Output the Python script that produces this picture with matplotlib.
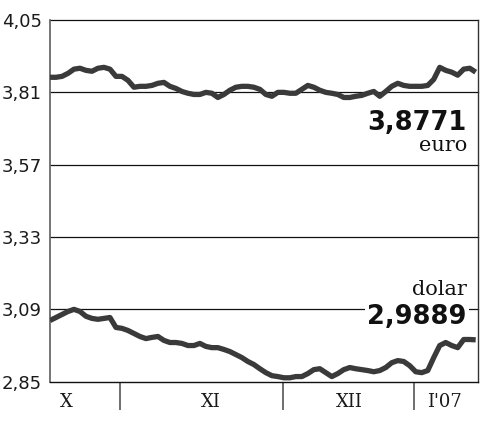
import matplotlib
matplotlib.use("Agg")
import matplotlib.pyplot as plt
import matplotlib.transforms as mtransforms
import numpy as np

# ---- data ----
euro = [3.860, 3.860, 3.863, 3.873, 3.887, 3.890, 3.883, 3.880, 3.890, 3.893,
        3.887, 3.863, 3.863, 3.850, 3.827, 3.830, 3.830, 3.833, 3.840, 3.843,
        3.830, 3.823, 3.813, 3.807, 3.803, 3.803, 3.810, 3.807, 3.793, 3.803,
        3.817, 3.827, 3.830, 3.830, 3.827, 3.820, 3.803, 3.797, 3.810, 3.810,
        3.807, 3.807, 3.820, 3.833, 3.827, 3.817, 3.810, 3.807, 3.803, 3.793,
        3.793, 3.797, 3.800, 3.807, 3.813, 3.797, 3.813, 3.830, 3.840, 3.833,
        3.830, 3.830, 3.830, 3.833, 3.853, 3.893, 3.883, 3.877, 3.867, 3.887,
        3.890, 3.8771]
dolar = [3.053, 3.063, 3.073, 3.083, 3.090, 3.083, 3.067, 3.060, 3.057, 3.060,
         3.063, 3.030, 3.027, 3.020, 3.010, 3.000, 2.993, 2.997, 3.000, 2.987,
         2.980, 2.980, 2.977, 2.970, 2.970, 2.977, 2.967, 2.963, 2.963, 2.957,
         2.950, 2.940, 2.930, 2.917, 2.907, 2.893, 2.880, 2.870, 2.867, 2.863,
         2.863, 2.867, 2.867, 2.877, 2.890, 2.893, 2.880, 2.867, 2.877, 2.890,
         2.897, 2.893, 2.890, 2.887, 2.883, 2.887, 2.897, 2.913, 2.920, 2.917,
         2.903, 2.883, 2.880, 2.887, 2.930, 2.970, 2.980, 2.970, 2.963, 2.990,
         2.990, 2.9889]
y_ticks = [2.85, 3.09, 3.33, 3.57, 3.81, 4.05]
y_tick_labels = ["2,85", "3,09", "3,33", "3,57", "3,81", "4,05"]
month_labels = ["X", "XI", "XII", "I'07"]
month_label_pos = [2.8, 26.8, 50.0, 65.8]
month_bounds = [11.67, 38.83, 60.67]
euro_label = "3,8771"
dolar_label = "2,9889"

days = np.arange(len(euro))

fig = plt.figure(figsize=(5.0, 4.26), dpi=100)
ax = fig.add_axes([0.10, 0.104, 0.855, 0.849])

line_color = "#3a3a3a"
ax.plot(days, euro, color=line_color, lw=3.8, solid_joinstyle="round", solid_capstyle="butt", zorder=3)
ax.plot(days, dolar, color=line_color, lw=3.8, solid_joinstyle="round", solid_capstyle="butt", zorder=3)

ax.set_xlim(0, 71.3)
ax.set_ylim(2.85, 4.05)

for v in y_ticks[1:]:
    ax.axhline(v, color="#111111", lw=0.9, zorder=1, clip_on=False)

ax.set_yticks(y_ticks)
ax.set_yticklabels(y_tick_labels)
ax.set_xticks([])
ax.tick_params(axis="y", length=0, pad=6, labelsize=13, labelcolor="#1a1a1a")

ax.spines["top"].set_visible(False)
ax.spines["left"].set_color("#6a6a6a")
ax.spines["left"].set_linewidth(1.3)
ax.spines["right"].set_color("#333333")
ax.spines["right"].set_linewidth(1.0)
ax.spines["bottom"].set_color("#111111")
ax.spines["bottom"].set_linewidth(1.0)

trans = mtransforms.blended_transform_factory(ax.transData, ax.transAxes)
ax.vlines(month_bounds, -0.078, 0, transform=trans, color="#555555", lw=1.2, clip_on=False)
for lab, pos in zip(month_labels, month_label_pos):
    ax.text(pos, -0.056, lab, transform=trans, ha="center", va="center",
            family="DejaVu Serif", fontsize=13, color="#1a1a1a")

ax.text(0.975, 0.715, euro_label, transform=ax.transAxes, ha="right", va="center",
        fontsize=18.5, fontweight="bold", color="#111111", zorder=4)
ax.text(0.975, 0.652, "euro", transform=ax.transAxes, ha="right", va="center",
        family="DejaVu Serif", fontsize=15, color="#111111", zorder=4)
ax.text(0.975, 0.256, "dolar", transform=ax.transAxes, ha="right", va="center",
        family="DejaVu Serif", fontsize=15, color="#111111", zorder=4)
ax.text(0.975, 0.180, dolar_label, transform=ax.transAxes, ha="right", va="center",
        fontsize=18.5, fontweight="bold", color="#111111", zorder=4,
        bbox=dict(facecolor="white", edgecolor="none", pad=1.5))

fig.savefig("out.png", dpi=100)
